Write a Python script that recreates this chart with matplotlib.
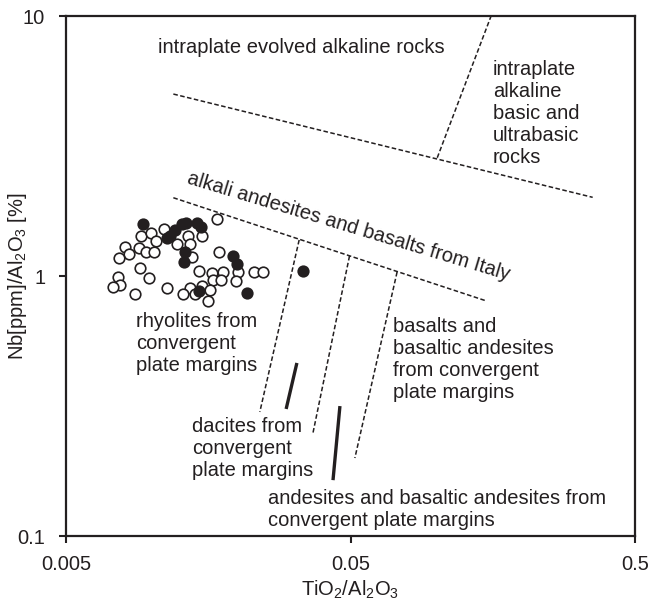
import matplotlib
matplotlib.use("Agg")
import matplotlib.pyplot as plt

plt.rcParams['font.family'] = ['Liberation Sans', 'DejaVu Sans']
plt.rcParams['mathtext.fontset'] = 'custom'
plt.rcParams['mathtext.rm'] = 'Liberation Sans'
plt.rcParams['mathtext.it'] = 'Liberation Sans'

INK = '#231f20'

# ---- data: sample points (TiO2/Al2O3, Nb[ppm]/Al2O3) ----
open_x = [0.01693, 0.00915, 0.00993, 0.01108, 0.01036, 0.00806, 0.00905, 0.00955,
          0.01022, 0.00834, 0.00768, 0.0091, 0.00979, 0.00764, 0.00774, 0.0073,
          0.00872, 0.0113, 0.01346, 0.01507, 0.01224, 0.01364, 0.0139, 0.01729,
          0.01467, 0.01634, 0.01786, 0.02007, 0.02295, 0.02468, 0.01647, 0.01753,
          0.01979, 0.01364, 0.01507, 0.01292, 0.0142, 0.01604, 0.01582]
open_y = [1.652, 1.425, 1.467, 1.516, 1.363, 1.296, 1.278, 1.240,
          1.234, 1.212, 1.170, 1.076, 0.985, 0.989, 0.924, 0.905,
          0.853, 0.899, 1.425, 1.429, 1.328, 1.328, 1.180, 1.240,
          1.045, 1.024, 1.033, 1.039, 1.033, 1.033, 0.965, 0.965,
          0.957, 0.897, 0.918, 0.851, 0.851, 0.884, 0.801]

filled_x = [0.00933, 0.0113, 0.01208, 0.01279, 0.0132, 0.01443, 0.01491, 0.0116,
            0.0131, 0.01299, 0.01937, 0.0199, 0.02158, 0.03413, 0.01467]
filled_y = [1.589, 1.406, 1.503, 1.585, 1.595, 1.595, 1.539, 1.425,
            1.237, 1.135, 1.199, 1.112, 0.857, 1.041, 0.876]

# ---- discrimination field boundaries (dashed) ----
bound_intraplate_x = [0.01192, 0.355]
bound_intraplate_y = [5.01, 2.007]
bound_basic_x = [0.1009, 0.156]
bound_basic_y = [2.85, 10.0]
bound_italy_x = [0.01192, 0.1506]
bound_italy_y = [2.0, 0.801]
bound_rhy_x = [0.033, 0.024]
bound_rhy_y = [1.376, 0.300]
bound_dac_x = [0.0496, 0.0369]
bound_dac_y = [1.194, 0.249]
bound_and_x = [0.0729, 0.0518]
bound_and_y = [1.036, 0.1995]

# ---- solid reference bars ----
bar_dacite_x = [0.0324, 0.0297]
bar_dacite_y = [0.463, 0.308]
bar_andesite_x = [0.0459, 0.0434]
bar_andesite_y = [0.316, 0.164]

x_ticks = [0.005, 0.05, 0.5]
x_ticklabels = ['0.005', '0.05', '0.5']
y_ticks = [0.1, 1, 10]
y_ticklabels = ['0.1', '1', '10']

fig = plt.figure(figsize=(6.52, 6.09), dpi=100)
ax = fig.add_axes([66/652, 1-536/609, 569/652, 520/609])
ax.set_xscale('log')
ax.set_yscale('log')
ax.set_xlim(0.005, 0.5)
ax.set_ylim(0.1, 10)

dash = dict(color=INK, lw=1.1, linestyle=(0, (3.0, 1.6)))
for xs, ys in [(bound_intraplate_x, bound_intraplate_y), (bound_basic_x, bound_basic_y),
               (bound_italy_x, bound_italy_y), (bound_rhy_x, bound_rhy_y),
               (bound_dac_x, bound_dac_y), (bound_and_x, bound_and_y)]:
    ax.plot(xs, ys, **dash)

for xs, ys in [(bar_dacite_x, bar_dacite_y), (bar_andesite_x, bar_andesite_y)]:
    ax.plot(xs, ys, color=INK, lw=2.4, solid_capstyle='butt')

ax.scatter(open_x, open_y, s=58, facecolor='white', edgecolor=INK, linewidths=1.2, zorder=3)
ax.scatter(filled_x, filled_y, s=58, facecolor=INK, edgecolor=INK, linewidths=1.2, zorder=4)

fs = 14.5
tk = dict(transform=ax.transAxes, fontsize=fs, color=INK, linespacing=1.2)
ax.text(0.1617, 0.9385, 'intraplate evolved alkaline rocks', ha='left', va='center', **tk)
ax.text(0.7499, 0.9154, 'intraplate\nalkaline\nbasic and\nultrabasic\nrocks', ha='left', va='top', **tk)
ax.text(0.4947, 0.5856, 'alkali andesites and basalts from Italy', ha='center', va='baseline',
        rotation=-16.8, rotation_mode='anchor', **tk)
ax.text(0.123, 0.4308, 'rhyolites from\nconvergent\nplate margins', ha='left', va='top', **tk)
ax.text(0.5747, 0.4212, 'basalts and\nbasaltic andesites\nfrom convergent\nplate margins', ha='left', va='top', **tk)
ax.text(0.2209, 0.2294, 'dacites from\nconvergent\nplate margins', ha='left', va='top', **tk)
ax.text(0.3556, 0.0898, 'andesites and basaltic andesites from\nconvergent plate margins', ha='left', va='top', **tk)

ax.set_xticks(x_ticks)
ax.set_xticklabels(x_ticklabels)
ax.set_yticks(y_ticks)
ax.set_yticklabels(y_ticklabels)
ax.minorticks_off()
ax.tick_params(direction='out', length=5, width=1.5, colors=INK, labelsize=fs)
ax.tick_params(axis='x', pad=9)
ax.tick_params(axis='y', pad=10)
for sp in ax.spines.values():
    sp.set_linewidth(1.6)
    sp.set_color(INK)

ax.set_xlabel('TiO$_2$/Al$_2$O$_3$', fontsize=fs, color=INK)
ax.xaxis.set_label_coords(0.5, (536 - 590) / 520, transform=ax.transAxes)
ax.xaxis.label.set_va('center')
ax.set_ylabel('Nb[ppm]/Al$_2$O$_3$ [%]', fontsize=fs, color=INK)
ax.yaxis.set_label_coords((18 - 66) / 569, 0.5, transform=ax.transAxes)
ax.yaxis.label.set_va('center')

fig.savefig('out.png', dpi=100)
